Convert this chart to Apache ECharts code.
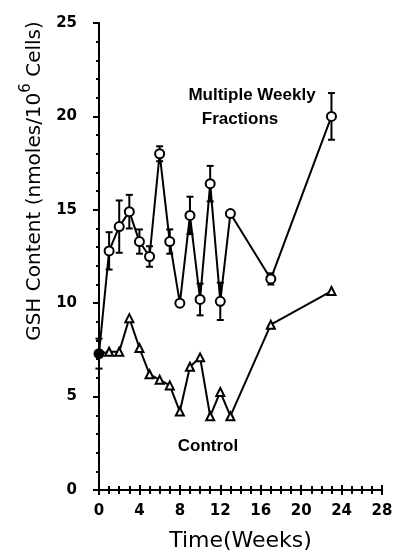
<!DOCTYPE html>
<html>
<head>
<meta charset="utf-8">
<script src="https://cdn.jsdelivr.net/npm/echarts@6/dist/echarts.min.js"></script>
<style>html,body{margin:0;padding:0;background:#fff;}#c{width:393px;height:554px;}</style>
</head>
<body>
<div id="c"></div>
<script>
// ---- data ----
var weeksMWF = [0, 1, 2, 3, 4, 5, 6, 7, 8, 9, 10, 11, 12, 13, 17, 23];
var gshMWF   = [7.3, 12.8, 14.1, 14.9, 13.3, 12.5, 18.0, 13.3, 10.0, 14.7, 10.2, 16.4, 10.1, 14.8, 11.3, 20.0];
var errMWF   = [0.8, 1.0, 1.4, 0.9, 0.65, 0.55, 0.4, 0.65, 0, 1.0, 0.85, 0.95, 1.0, 0, 0.3, 1.25];
var weeksCtl = [0, 1, 2, 3, 4, 5, 6, 7, 8, 9, 10, 11, 12, 13, 17, 23];
var gshCtl   = [7.3, 7.4, 7.4, 9.2, 7.6, 6.2, 5.9, 5.6, 4.2, 6.6, 7.1, 3.95, 5.25, 3.95, 8.85, 10.65];
var xTicks = [0, 4, 8, 12, 16, 20, 24, 28];
var yTicks = [0, 5, 10, 15, 20, 25];
var labelMWF = ['Multiple Weekly', 'Fractions'];
var labelCtl = 'Control';
var xTitle = 'Time(Weeks)';

var chart = echarts.init(document.getElementById('c'), null, {renderer: 'canvas'});
var ink = '#000';

var mwfData = weeksMWF.map(function (w, i) {
  var d = {value: [w, gshMWF[i]]};
  if (i === 0) d.itemStyle = {color: ink, borderColor: ink};
  return d;
});
var ctlData = weeksCtl.map(function (w, i) {
  var d = {value: [w, gshCtl[i]]};
  if (i === 0) d.symbol = 'none';
  return d;
});
var errData = weeksMWF.map(function (w, i) { return [w, gshMWF[i], errMWF[i]]; });

var tickLabel = {fontFamily: 'DejaVu Sans', fontWeight: 'bold', fontSize: 15, color: ink};

var option = {
  animation: false,
  backgroundColor: '#fff',
  grid: {left: 99, right: 11, top: 23, bottom: 64, containLabel: false, outerBoundsMode: 'none'},
  xAxis: [{
    type: 'value', min: xTicks[0], max: xTicks[xTicks.length - 1], interval: 4,
    position: 'bottom',
    axisLine: {show: true, lineStyle: {color: ink, width: 2}},
    axisTick: {show: true, length: 5, lineStyle: {color: ink, width: 2}},
    minorTick: {show: true, splitNumber: 4, length: 4, lineStyle: {color: ink, width: 2}},
    splitLine: {show: false},
    axisLabel: Object.assign({margin: 14}, tickLabel),
    name: xTitle, nameLocation: 'middle', nameGap: 40,
    nameTextStyle: {fontFamily: 'DejaVu Sans', fontSize: 22, color: ink}
  }, {
    type: 'value', min: xTicks[0], max: xTicks[xTicks.length - 1], interval: 4,
    position: 'bottom', gridIndex: 0,
    axisLine: {show: false},
    axisTick: {show: true, inside: true, length: 5, lineStyle: {color: ink, width: 2}},
    minorTick: {show: true, splitNumber: 4, length: 4, lineStyle: {color: ink, width: 2}},
    splitLine: {show: false},
    axisLabel: {show: false}
  }],
  yAxis: {
    type: 'value', min: yTicks[0], max: yTicks[yTicks.length - 1], interval: 5,
    axisLine: {show: true, lineStyle: {color: ink, width: 2}},
    axisTick: {show: true, length: 6, lineStyle: {color: ink, width: 2}},
    minorTick: {show: true, splitNumber: 5, length: 3, lineStyle: {color: ink, width: 2}},
    splitLine: {show: false},
    axisLabel: Object.assign({margin: 22}, tickLabel)
  },
  series: [{
    type: 'custom',
    z: 2,
    data: errData,
    renderItem: function (params, api) {
      var x = api.value(0), y = api.value(1), e = api.value(2);
      if (!e) return null;
      var top = api.coord([x, y + e]);
      var bot = api.coord([x, y - e]);
      var cw = 3.5;
      var st = {stroke: ink, lineWidth: 2};
      return {
        type: 'group',
        children: [
          {type: 'line', shape: {x1: top[0], y1: top[1], x2: bot[0], y2: bot[1]}, style: st},
          {type: 'line', shape: {x1: top[0] - cw, y1: top[1], x2: top[0] + cw, y2: top[1]}, style: st},
          {type: 'line', shape: {x1: bot[0] - cw, y1: bot[1], x2: bot[0] + cw, y2: bot[1]}, style: st}
        ]
      };
    }
  }, {
    type: 'line',
    z: 3,
    data: mwfData,
    symbol: 'circle', symbolSize: 9,
    lineStyle: {color: ink, width: 2},
    itemStyle: {color: '#fff', borderColor: ink, borderWidth: 2}
  }, {
    type: 'line',
    z: 3,
    data: ctlData,
    symbol: 'triangle', symbolSize: 8,
    lineStyle: {color: ink, width: 2},
    itemStyle: {color: '#fff', borderColor: ink, borderWidth: 2}
  }],
  graphic: [{
    type: 'text', x: 31, y: 181, rotation: Math.PI / 2,
    style: {
      text: '{a|GSH Content (nmoles/10}{s|6}{a| Cells)}',
      align: 'center', verticalAlign: 'middle',
      rich: {
        a: {fontFamily: 'DejaVu Sans', fontSize: 20, fill: ink, lineHeight: 30, padding: [8, 0, 0, 0]},
        s: {fontFamily: 'DejaVu Sans', fontSize: 15, fill: ink, lineHeight: 30, padding: [0, 0, 10, 0]}
      }
    }
  }, {
    type: 'text', x: 252, y: 95,
    style: {text: labelMWF[0], align: 'center', verticalAlign: 'middle',
      font: 'bold 17px "Liberation Sans"', fill: ink}
  }, {
    type: 'text', x: 240, y: 119,
    style: {text: labelMWF[1], align: 'center', verticalAlign: 'middle',
      font: 'bold 17px "Liberation Sans"', fill: ink}
  }, {
    type: 'text', x: 208, y: 446,
    style: {text: labelCtl, align: 'center', verticalAlign: 'middle',
      font: 'bold 17px "Liberation Sans"', fill: ink}
  }]
};
chart.setOption(option);
</script>
</body>
</html>
